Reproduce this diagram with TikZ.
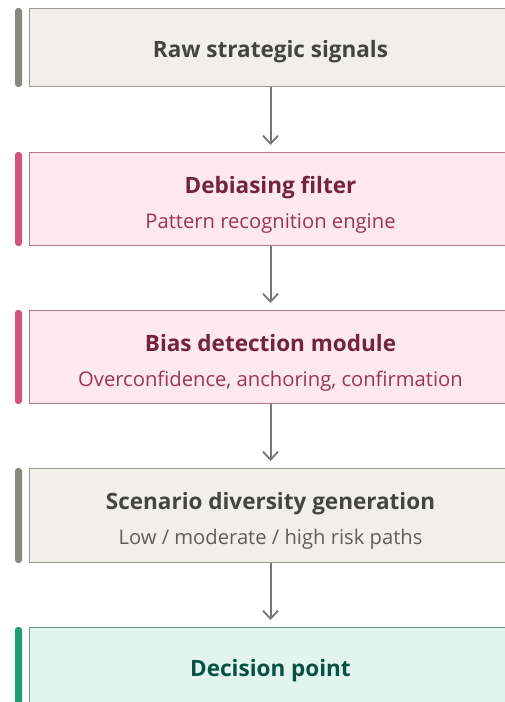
\documentclass[tikz,border=0pt]{standalone}
\usepackage{fontspec}
\setmainfont{Open Sans}
\usetikzlibrary{arrows.meta, calc}
\definecolor{grayFill}{HTML}{F1EFEA}
\definecolor{grayLine}{HTML}{9A9994}
\definecolor{grayBar}{HTML}{888780}
\definecolor{grayTitle}{HTML}{444441}
\definecolor{graySub}{HTML}{5F5E5A}
\definecolor{pinkFill}{HTML}{FCE8EE}
\definecolor{pinkLine}{HTML}{B5768C}
\definecolor{pinkBar}{HTML}{D4537E}
\definecolor{pinkTitle}{HTML}{72243E}
\definecolor{pinkSub}{HTML}{993556}
\definecolor{greenFill}{HTML}{E1F5EE}
\definecolor{greenLine}{HTML}{5E9E86}
\definecolor{greenBar}{HTML}{1D9E75}
\definecolor{greenTitle}{HTML}{085041}
\definecolor{arrowGray}{HTML}{777672}

\begin{document}
\begin{tikzpicture}[x=1pt,y=-1pt]
  \tikzset{stage/.style 2 args={draw=#1, fill=#2, line width=1pt,
      minimum width=482pt, inner sep=0pt, anchor=north west},
    stage title/.style={text=#1, anchor=base,
      font=\fontsize{22.5}{27}\selectfont\bfseries},
    stage sub/.style={text=#1, anchor=base,
      font=\fontsize{20.2}{24}\selectfont},
    side bar/.style={fill=#1, rounded corners=3pt},
    flow/.style={draw=arrowGray, line width=2pt, shorten >=7pt,
      -{Straight Barb[length=8pt,width=15pt,line width=1.8pt]}}
  }
  \useasboundingbox (0,0) rectangle (505,702);

  % boxes
  \node [stage={grayLine}{grayFill}, minimum height=78pt] (raw) at (29,8) {};
  \node [stage={pinkLine}{pinkFill}, minimum height=93pt] (filter) at (29,152) {};
  \node [stage={pinkLine}{pinkFill}, minimum height=93pt] (bias) at (29,310) {};
  \node [stage={grayLine}{grayFill}, minimum height=94pt] (scen) at (29,468) {};
  \node [stage={greenLine}{greenFill}, minimum height=78pt] (decide) at (29,627) {};

  % side bars
  \fill [side bar=grayBar] ($(raw.north west)+(-14,0)$) rectangle ($(raw.south west)+(-7,0)$);
  \fill [side bar=pinkBar] ($(filter.north west)+(-14,0)$) rectangle ($(filter.south west)+(-7,0)$);
  \fill [side bar=pinkBar] ($(bias.north west)+(-14,0)$) rectangle ($(bias.south west)+(-7,0)$);
  \fill [side bar=grayBar] ($(scen.north west)+(-14,0)$) rectangle ($(scen.south west)+(-7,0)$);
  \fill [side bar=greenBar] ($(decide.north west)+(-14,0)$) rectangle ($(decide.south west)+(-7,0)$);

  % texts
  \node [stage title=grayTitle] (rawT) at ($(raw.north)+(0,49)$) {Raw strategic signals};
  \node [stage title=pinkTitle] (filterT) at ($(filter.north)+(0,41)$) {Debiasing filter};
  \node [stage sub=pinkSub] (filterS) at ($(filter.north)+(0,76)$) {Pattern recognition engine};
  \node [stage title=pinkTitle] (biasT) at ($(bias.north)+(0,41)$) {Bias detection module};
  \node [stage sub=pinkSub] (biasS) at ($(bias.north)+(0,76)$) {Overconfidence, anchoring, confirmation};
  \node [stage title=grayTitle] (scenT) at ($(scen.north)+(0,41)$) {Scenario diversity generation};
  \node [stage sub=graySub] (scenS) at ($(scen.north)+(0,76)$) {Low / moderate / high risk paths};
  \node [stage title=greenTitle] (decideT) at ($(decide.north)+(0,49)$) {Decision point};

  % connectors
  \draw [flow] (raw.south) -- (filter.north);
  \draw [flow] (filter.south) -- (bias.north);
  \draw [flow] (bias.south) -- (scen.north);
  \draw [flow] (scen.south) -- (decide.north);
\end{tikzpicture}
\end{document}
